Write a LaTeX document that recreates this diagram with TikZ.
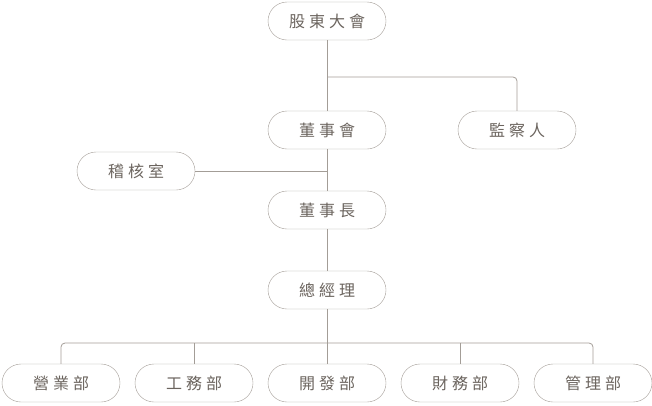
\documentclass[tikz,border=0pt]{standalone}
\usepackage{fontspec}
\newfontfamily\cjk[LetterSpace=25]{Noto Sans CJK TC}
\definecolor{linegray}{HTML}{A39D97}
\definecolor{textgray}{HTML}{6B645E}
\begin{document}
\begin{tikzpicture}[
            x=1pt, y=-1pt,
            every node/.style={
                rounded rectangle/.style={},
                draw=linegray,
                rounded corners=19pt,
                minimum width=118pt,
                minimum height=38pt,
                text=textgray,
                font=\cjk\fontsize{16}{16}\selectfont
            },
            link/.style={draw=linegray, line width=0.8pt, rounded corners=4pt}
        ]
            \useasboundingbox (0,0) rectangle (652,405);
            % 節點
            \node (meeting) at (327,21) {股東大會};
            \node (board) at (327,130) {董事會};
            \node (super) at (517,130) {監察人};
            \node (audit) at (136,171) {稽核室};
            \node (chair) at (327,210) {董事長};
            \node (ceo) at (327,290) {總經理};
            \node (sales) at (61,383) {營業部};
            \node (works) at (194,383) {工務部};
            \node (dev) at (327,383) {開發部};
            \node (fin) at (460,383) {財務部};
            \node (mgmt) at (593,383) {管理部};
            % 連線
            \coordinate (split) at (327,77);
            \coordinate (bus) at (327,343);
            \draw[link] (meeting) -- (board);
            \draw[link] (split) -| (super);
            \draw[link] (board) -- (chair);
            \draw[link] (audit) -- (327,171);
            \draw[link] (chair) -- (ceo);
            \draw[link] (ceo) -- (dev);
            \draw[link] (sales) |- (bus) -| (mgmt);
            \draw[link] (works) -- (works |- bus);
            \draw[link] (fin) -- (fin |- bus);
        \end{tikzpicture}
\end{document}
